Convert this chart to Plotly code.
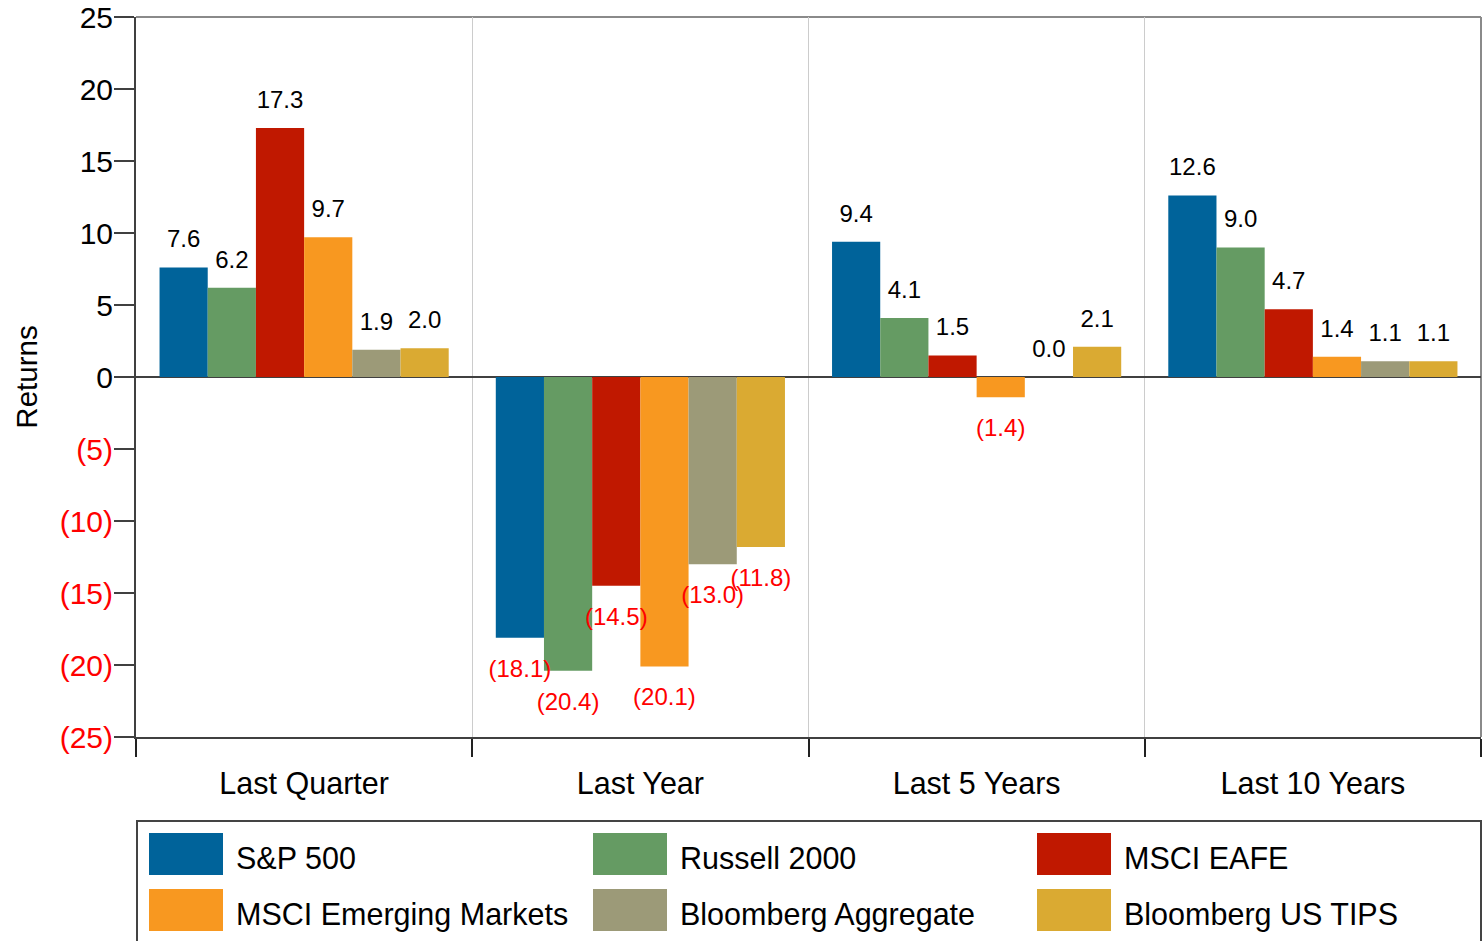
import plotly.graph_objects as go

# ---------------- data ----------------
categories = ["Last Quarter", "Last Year", "Last 5 Years", "Last 10 Years"]
series_names = ["S&P 500", "Russell 2000", "MSCI EAFE",
                "MSCI Emerging Markets", "Bloomberg Aggregate", "Bloomberg US TIPS"]
sp500 = [7.6, -18.1, 9.4, 12.6]
russell_2000 = [6.2, -20.4, 4.1, 9.0]
msci_eafe = [17.3, -14.5, 1.5, 4.7]
msci_em = [9.7, -20.1, -1.4, 1.4]
bbg_aggregate = [1.9, -13.0, 0.0, 1.1]
bbg_us_tips = [2.0, -11.8, 2.1, 1.1]
series_values = [sp500, russell_2000, msci_eafe, msci_em, bbg_aggregate, bbg_us_tips]
colors = ["#00639A", "#659B63", "#C01800", "#F89820", "#9C9A78", "#DAAA32"]
y_tick_values = [25, 20, 15, 10, 5, 0, -5, -10, -15, -20, -25]

# ---------------- helpers ----------------
FONT = "Arial, Liberation Sans, sans-serif"
NEG = "#FF0000"


def fmt(v):
    return f"{v:.1f}" if v >= 0 else f"({abs(v):.1f})"


def tick_fmt(v):
    return str(v) if v >= 0 else f'<span style="color:{NEG}">({abs(v)})</span>'


# plot-area geometry in pixels (for legend placement)
W, H = 1484, 941
L, R, T, B = 136, 3, 17, 204
PW, PH = W - L - R, H - T - B


def px_x(x):
    return (x - L) / PW


def px_y(y):
    return (H - B - y) / PH


fig = go.Figure()

for i, (name, vals) in enumerate(zip(series_names, series_values)):
    fig.add_trace(go.Bar(
        x=categories, y=vals, name=name,
        marker=dict(color=colors[i], line=dict(width=0)),
        offsetgroup=f"g{i}", showlegend=False, hoverinfo="skip",
    ))

for i, (name, vals) in enumerate(zip(series_names, series_values)):
    fig.add_trace(go.Scatter(
        x=categories, y=vals, mode="markers+text",
        offsetgroup=f"g{i}",
        text=[fmt(v) for v in vals],
        textposition=["top center" if v >= 0 else "bottom center" for v in vals],
        textfont=dict(family=FONT, size=24,
                      color=["#000000" if v >= 0 else NEG for v in vals]),
        marker=dict(size=[21 if v >= 0 else 32 for v in vals], opacity=0),
        showlegend=False, hoverinfo="skip", cliponaxis=False,
    ))

shapes = [
    # top and right frame (gray)
    dict(type="line", xref="paper", yref="paper", x0=0, x1=1, y0=1, y1=1,
         line=dict(color="#8a8a8a", width=2), layer="below"),
    dict(type="line", xref="paper", yref="paper", x0=1, x1=1, y0=0, y1=1,
         line=dict(color="#8a8a8a", width=2), layer="below"),
    # legend box
    dict(type="rect", xref="paper", yref="paper",
         x0=px_x(137), x1=px_x(1481), y0=px_y(821), y1=px_y(960),
         line=dict(color="#444444", width=2), fillcolor="rgba(0,0,0,0)"),
]
annotations = []
col_x = [149, 593, 1037]
row_y = [833, 889]
for i, name in enumerate(series_names):
    r, c = divmod(i, 3)
    x0, y0 = col_x[c], row_y[r]
    shapes.append(dict(type="rect", xref="paper", yref="paper",
                       x0=px_x(x0), x1=px_x(x0 + 74), y0=px_y(y0 + 42), y1=px_y(y0),
                       line=dict(width=0), fillcolor=colors[i]))
    annotations.append(dict(xref="paper", yref="paper", x=px_x(x0 + 85), y=px_y(y0 + 25),
                            xanchor="left", yanchor="middle", text=name, showarrow=False,
                            font=dict(family=FONT, size=30.5, color="#000000")))

fig.update_layout(
    width=W, height=H,
    margin=dict(l=L, r=R, t=T, b=B, pad=0, autoexpand=False),
    paper_bgcolor="white", plot_bgcolor="white",
    barmode="group", bargap=0.14, bargroupgap=0,
    scattermode="group", scattergap=0.14,
    font=dict(family=FONT, color="#000000"),
    showlegend=False,
    shapes=shapes, annotations=annotations,
    xaxis=dict(
        type="category", tickson="boundaries", ticks="outside", ticklen=18,
        tickwidth=1.5, tickcolor="#222222", automargin=False,
        showline=True, linecolor="#404040", linewidth=2,
        showgrid=True, gridcolor="#cccccc", gridwidth=1,
        tickfont=dict(family=FONT, size=30.5, color="#000000"),
        ticklabelstandoff=18,
    ),
    yaxis=dict(
        range=[-25, 25], tickvals=y_tick_values,
        ticktext=[tick_fmt(v) for v in y_tick_values],
        ticks="outside", ticklen=20, tickwidth=1.5, tickcolor="#404040",
        showline=True, linecolor="#404040", linewidth=2, automargin=False,
        showgrid=False, zeroline=True, zerolinecolor="#404040", zerolinewidth=1.5,
        tickfont=dict(family=FONT, size=30, color="#000000"),
        ticklabelstandoff=-5,
        title=dict(text="Returns", font=dict(family=FONT, size=29.5, color="#000000"),
                   standoff=13),
    ),
)

fig.write_html("out.html", config={"displayModeBar": False},
               post_script="document.body.style.margin='0';")
